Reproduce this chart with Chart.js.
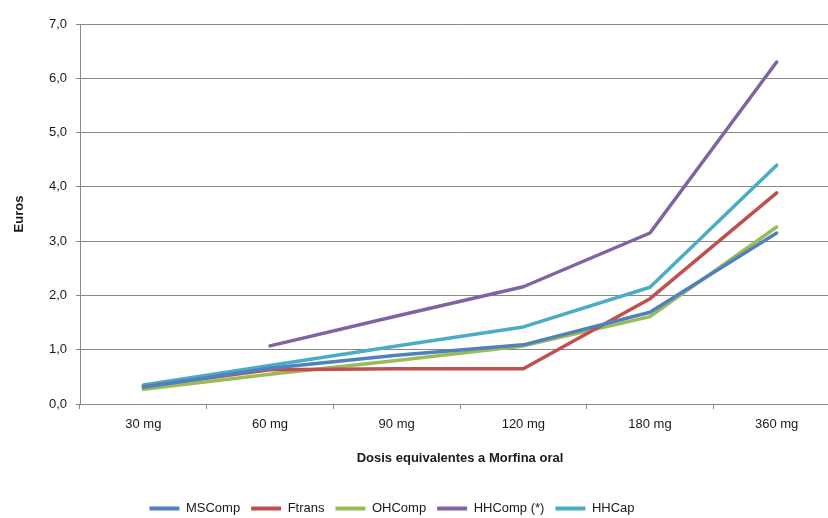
<!DOCTYPE html>
<html>
<head>
<meta charset="utf-8">
<script src="https://cdn.jsdelivr.net/npm/chart.js@4.4.1/dist/chart.umd.min.js"></script>
<style>
  html, body { margin: 0; padding: 0; background: #ffffff; overflow: hidden; }
  #wrap { width: 840px; height: 518px; }
</style>
</head>
<body>
<div id="wrap"><canvas id="c"></canvas></div>
<script>
// Dosis equivalentes de morfina oral y coste (euros) por presentación
const doses = ['30 mg', '60 mg', '90 mg', '120 mg', '180 mg', '360 mg'];
const msComp = [0.31, 0.66, 0.90, 1.09, 1.69, 3.15];
const fTrans = [0.32, 0.63, 0.65, 0.65, 1.94, 3.89];
const ohComp = [0.27, 0.55, 0.80, 1.07, 1.61, 3.26];
const hhComp = [null, 1.07, 1.62, 2.16, 3.15, 6.30];
const hhCap  = [0.35, 0.71, 1.07, 1.42, 2.15, 4.40];
const yTicks = [0, 1, 2, 3, 4, 5, 6, 7];

const GRID = '#878787';
const TEXT = '#1a1a1a';
const FONT = '"Liberation Sans", Arial, sans-serif';

function series(label, data, color) {
  return {
    label, data,
    borderColor: color,
    backgroundColor: color,
    borderWidth: 3.5,
    pointRadius: 0,
    pointHoverRadius: 0,
    tension: 0,
    fill: false,
    borderCapStyle: 'round',
    borderJoinStyle: 'round'
  };
}

// move the legend row into place below the axis title
const legendNudge = {
  id: 'legendNudge',
  afterLayout(chart) {
    const l = chart.legend;
    if (!l) return;
    l.top += 7; l.bottom += 7;
    l.left -= 28; l.right -= 28;
  }
};

new Chart(document.getElementById('c'), {
  type: 'line',
  data: {
    labels: doses,
    datasets: [
      series('MSComp', msComp, '#4F81BD'),
      series('Ftrans', fTrans, '#C0504D'),
      series('OHComp', ohComp, '#9BBB59'),
      series('HHComp (*)', hhComp, '#8064A2'),
      series('HHCap', hhCap, '#4BACC6')
    ]
  },
  plugins: [legendNudge],
  options: {
    responsive: true,
    maintainAspectRatio: false,
    animation: false,
    layout: { padding: { left: 0, right: 0, top: 24, bottom: 0 } },
    plugins: {
      tooltip: { enabled: false },
      legend: {
        position: 'bottom',
        align: 'center',
        labels: {
          boxWidth: 30,
          boxHeight: 4,
          padding: 11,
          color: TEXT,
          font: { family: FONT, size: 13 },
          generateLabels(chart) {
            const items = Chart.defaults.plugins.legend.labels.generateLabels(chart);
            items.forEach(it => { it.lineWidth = 0; it.fillStyle = it.strokeStyle; });
            return items;
          }
        }
      }
    },
    scales: {
      x: {
        offset: true,
        grid: {
          offset: true,
          drawOnChartArea: false,
          drawTicks: true,
          tickLength: 5,
          color: GRID
        },
        border: { color: GRID },
        ticks: {
          padding: 8,
          color: TEXT,
          font: { family: FONT, size: 13 },
          maxRotation: 0
        },
        title: {
          display: true,
          text: 'Dosis equivalentes a Morfina oral',
          color: TEXT,
          font: { family: FONT, size: 13, weight: 'bold' },
          padding: { top: 0, bottom: 18 }
        },
        afterFit(scale) { scale.height = 80; }
      },
      y: {
        min: 0,
        max: 7,
        afterBuildTicks(scale) { scale.ticks = yTicks.map(v => ({ value: v })); },
        grid: {
          color: GRID,
          drawTicks: true,
          tickLength: 4
        },
        border: { color: GRID },
        ticks: {
          padding: 9,
          color: TEXT,
          font: { family: FONT, size: 13 },
          callback: v => Number(v).toFixed(1).replace('.', ',')
        },
        title: {
          display: true,
          text: 'Euros',
          color: TEXT,
          font: { family: FONT, size: 13, weight: 'bold' },
          padding: { top: 12, bottom: 0 }
        },
        afterFit(scale) { scale.width = 80; }
      }
    }
  }
});
</script>
</body>
</html>
